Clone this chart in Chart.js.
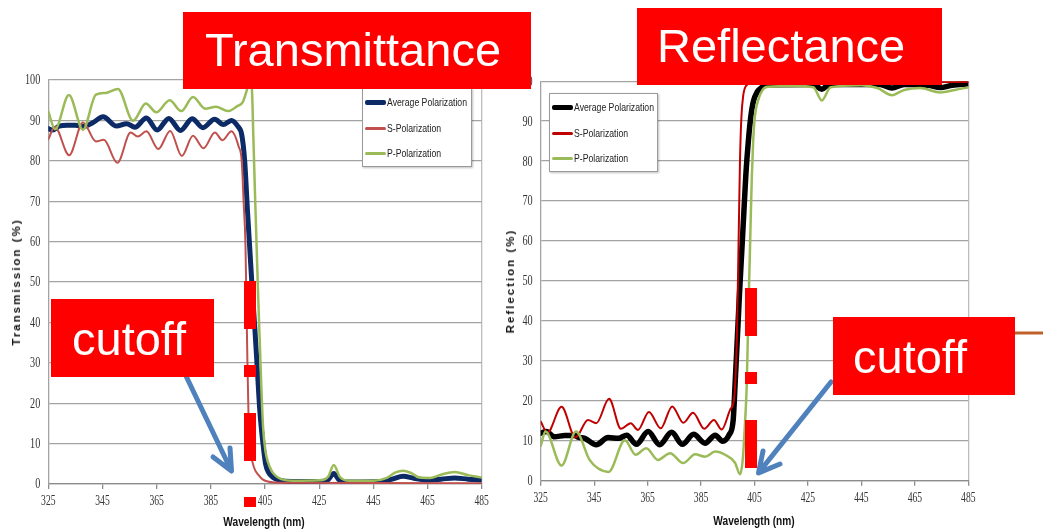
<!DOCTYPE html>
<html><head><meta charset="utf-8">
<script src="https://cdn.jsdelivr.net/npm/chart.js@4.4.1/dist/chart.umd.min.js"></script>
<style>
html,body{margin:0;padding:0;background:#fff}
body{width:1043px;height:531px;position:relative;overflow:hidden;font-family:'Liberation Sans',Arial,sans-serif}
canvas{position:absolute;top:0}
.box{position:absolute;background:#ff0000;color:#fff;font-family:'Liberation Sans',Arial,sans-serif;white-space:nowrap}
.box span{position:absolute}
.legend{position:absolute;background:#fff;border:1px solid #9a9a9a;box-shadow:1px 1px 2px rgba(0,0,0,0.25);font-family:'Liberation Sans',Arial,sans-serif;font-size:11px;color:#222}
.legend .it{position:absolute;left:2px;height:13px;line-height:13px;white-space:nowrap}
.legend .sw{display:inline-block;width:21px;vertical-align:middle;border-radius:2px;margin-right:1px}
.legend .tx{display:inline-block;transform:scaleX(0.79);transform-origin:0 50%;vertical-align:middle}
.atitle{position:absolute;font-weight:bold;color:#111;white-space:nowrap}
.xt{font-family:'Liberation Sans',Arial,sans-serif;font-size:13px;transform:translate(-50%,-50%) scaleX(0.78)}
.yt{font-family:'Liberation Sans',Arial,sans-serif;font-size:11.5px;letter-spacing:2px;transform:translate(-50%,-50%) rotate(-90deg)}
</style>
</head><body>
<canvas id="c1" width="500" height="531" style="left:0"></canvas>
<canvas id="c2" width="500" height="531" style="left:500px"></canvas>

<div class="atitle yt" style="left:16px;top:282px">Transmission (%)</div>
<div class="atitle xt" style="left:264px;top:521px">Wavelength (nm)</div>
<div class="atitle yt" style="left:510px;top:281px">Reflection (%)</div>
<div class="atitle xt" style="left:754px;top:520px">Wavelength (nm)</div>

<div class="legend" id="lg1" style="left:362px;top:88px;width:108px;height:77px"></div>
<div class="legend" id="lg2" style="left:549px;top:93px;width:107px;height:77px"></div>

<svg width="1043" height="531" style="position:absolute;left:0;top:0;pointer-events:none">
  <line x1="250" y1="281" x2="250" y2="507" stroke="#ff0000" stroke-width="12" stroke-dasharray="48 36 12 36"/>
  <line x1="751" y1="288" x2="751" y2="468" stroke="#ff0000" stroke-width="12" stroke-dasharray="48 36 12 36"/>
  <path d="M186 376 L231 470 M213 457 L231.5 471 L230 448" stroke="#4f81bd" stroke-width="5" fill="none" stroke-linecap="round" stroke-linejoin="round"/>
  <path d="M831 382 L760 471 M763 451 L758.5 473 L780 464" stroke="#4f81bd" stroke-width="5" fill="none" stroke-linecap="round" stroke-linejoin="round"/>
  <line x1="1014" y1="333" x2="1043" y2="333" stroke="#c0612b" stroke-width="3"/>
</svg>

<div class="box" style="left:183px;top:12px;width:348px;height:77px"><span style="left:22px;top:10px;font-size:47px;line-height:56px">Transmittance</span></div>
<div class="box" style="left:637px;top:8px;width:305px;height:77px"><span style="left:20px;top:10px;font-size:47px;line-height:56px">Reflectance</span></div>
<div class="box" style="left:51px;top:299px;width:163px;height:78px"><span style="left:21px;top:12px;font-size:47px;line-height:56px">cutoff</span></div>
<div class="box" style="left:833px;top:317px;width:182px;height:78px"><span style="left:20px;top:12px;font-size:47px;line-height:56px">cutoff</span></div>

<script>
// ---------- data ----------
const xTicks = [325, 345, 365, 385, 405, 425, 445, 465, 485];
const yTicks = [0, 10, 20, 30, 40, 50, 60, 70, 80, 90, 100];
const seriesNames = ['Average Polarization', 'S-Polarization', 'P-Polarization'];

// Transmittance: average polarization
const tAvgX = [325,326.6,329,332,335,338,341.4,345.2,350.2,353.9,357,361.2,365.2,369.5,373.8,378.1,382.1,386.4,389.6,392.6,395,396.4,397.5,398.5,399.4,400.4,401.3,402.2,403.1,404.3,405.2,406.2,408,410,415,425,428,430.4,432.5,436,448,452,456,460,465,470,475,480,485];
const tAvgY = [88.0,87.6,88.6,88.8,88.8,88.5,89.4,90.9,88.6,89.2,88.3,90.6,87.6,90.5,87.5,90.4,88.2,90.3,89.0,90.0,88.5,86.5,80,68,58,47,38,28,18,9.7,5,3,1.6,1.0,0.6,0.6,0.9,2.6,0.9,0.5,0.6,1.2,1.9,1.4,1.0,1.2,1.5,1.2,1.0];
// Transmittance: S-polarization
const tSX = [325,327.4,332.7,337.8,342.6,345.5,350.5,355.4,358,361.2,365.6,370,374.3,378.4,382.3,386.5,389.3,392.6,395.3,396.4,397.1,397.8,398.4,399.0,399.5,400.3,401.3,402.5,404,406,410,485];
const tSY = [85.3,88.4,81.4,89.5,84.8,85.2,79.5,87.0,86.0,87.3,82.9,87.4,81.2,86.2,83.1,87.0,85.1,87.3,83.5,80,70,59,34.5,14,8.5,5.6,3.5,2.3,1.2,0.6,0.3,0.2];
// Transmittance: P-polarization
const tPX = [325,327.5,332.6,337.8,342.6,346.3,350.7,356.3,361,364.9,369.8,374.1,378.4,382.9,386.9,391.3,394.9,396.8,398.3,399.3,400.1,400.7,401.3,401.9,402.5,403.1,403.7,404.3,405.2,406.2,407.5,409,411,415,425,428.3,430.4,432.6,436,445,450,453,456,459,462,466,470,475,480,485];
const tPY = [92.2,87.8,96.3,87.7,96.4,96.8,97.8,89.9,94.2,92.0,95.0,92.3,95.8,92.9,93.4,92.3,93.6,94.5,97.5,100,98.5,86,72,59,46,34.5,23,14,8,5.2,3.2,2.0,1.2,0.8,0.9,1.8,4.7,1.8,0.8,0.8,1.5,2.8,3.3,2.7,1.6,1.5,2.3,3.0,2.2,1.6];

// Reflectance: average polarization
const rAvgX = [325,327.1,330.2,334,337.7,339,341.5,345.8,350.2,354.1,357.2,360.8,365.2,369.5,374,378,382.2,386.5,390.3,393.1,395.5,397.0,397.8,398.6,399.4,400.2,401,401.8,402.7,403.6,404.6,406,408,410,427,430.2,433,452,456.4,461,470,474.5,479,485];
const rAvgY = [11.9,12.3,11.0,11.3,11.3,10.9,10.6,9.0,10.8,10.6,11.4,9.1,12.3,9.0,12.1,9.1,11.6,9.4,11.4,9.9,11.5,15,25,36,47,57,67,77,85,91,95,97.3,98.6,99.1,99.2,98.0,99.2,99.2,98.3,99.2,99.0,98.4,99.0,99.3];
// Reflectance: S-polarization
const rSX = [325,327.5,332.8,338,342.7,345.8,350.6,355,358.7,361.4,365.5,369.9,374.2,378.4,382,386.2,389.8,392.7,395.9,397.3,397.9,398.4,398.8,399.2,399.6,400.1,400.8,401.8,404,485];
const rSY = [14.8,12.0,18.5,10.8,15.2,14.4,20.5,13.0,14.4,12.7,17.2,13.1,18.6,14.5,17.0,13.0,15.2,12.8,17.8,20.2,26,36,50,66,81,91,96.5,98.8,99.6,99.8];
// Reflectance: P-polarization
const rPX = [325,326.8,332.8,338.2,343.3,346.4,350.4,356.5,360.5,364.5,368.9,373.4,378.3,382.8,386.5,390.3,394,397.7,399.6,400.4,400.9,401.5,402.1,402.7,403.2,403.6,404,404.5,405.2,406.5,408,410,420,427,430.2,433.5,445,451,456.4,461,467,474.5,480,485];
const rPY = [8.7,12.3,3.8,12.3,5.2,3.1,2.2,10.1,6.5,8.1,5.2,6.9,4.4,6.6,6.0,7.3,6.5,4.5,1.6,4,8,15,24,42,55,66,76,85,91.5,95.5,97.8,98.6,98.8,98.5,95.2,98.5,99.0,98.3,96.5,97.8,98.3,97.2,97.8,98.5];

// ---------- helpers ----------
function pts(xs, ys) { return xs.map((x, i) => ({ x: x, y: ys[i] })); }

// narrow serif tick labels, drawn at the positions given by the chart's own scales
const narrowTicks = {
  id: 'narrowTicks',
  afterDraw(chart) {
    const ctx = chart.ctx;
    const xs = chart.scales.x, ys = chart.scales.y;
    ctx.save();
    ctx.fillStyle = '#333';
    ctx.font = "15px 'Liberation Serif','Times New Roman',serif";
    ctx.textBaseline = 'middle';
    ctx.textAlign = 'center';
    xs.ticks.forEach(t => {
      const px = xs.getPixelForValue(t.value);
      ctx.save(); ctx.translate(px, xs.top + 17); ctx.scale(0.64, 1);
      ctx.fillText(String(t.value), 0, 0); ctx.restore();
    });
    ctx.textAlign = 'right';
    ys.ticks.forEach(t => {
      const py = ys.getPixelForValue(t.value);
      ctx.save(); ctx.translate(ys.right - 8, py + 0.5); ctx.scale(0.68, 1);
      ctx.fillText(String(t.value), 0, 0); ctx.restore();
    });
    ctx.restore();
  }
};

function makeChart(id, series, geom) {
  const datasets = series.map((s, i) => ({
    label: seriesNames[i],
    data: pts(s.x, s.y),
    borderColor: s.color,
    backgroundColor: s.color,
    borderWidth: s.width,
    order: 3 - i,
    fill: false
  }));
  return new Chart(document.getElementById(id), {
    type: 'line',
    data: { datasets: datasets },
    plugins: [narrowTicks],
    options: {
      responsive: false,
      animation: false,
      devicePixelRatio: 1,
      layout: { padding: { left: 0, right: geom.right, top: geom.top, bottom: 0 } },
      plugins: { legend: { display: false }, tooltip: { enabled: false } },
      elements: {
        point: { radius: 0 },
        line: { cubicInterpolationMode: 'monotone', borderCapStyle: 'round', borderJoinStyle: 'round' }
      },
      scales: {
        x: {
          type: 'linear', min: 325, max: 485,
          afterBuildTicks: s => { s.ticks = xTicks.map(v => ({ value: v })); },
          afterFit: s => { s.height = geom.xh; },
          grid: {
            color: c => (c.index === xTicks.length - 1 ? '#bdbdbd' : 'rgba(0,0,0,0)'),
            tickColor: '#8c8c8c', tickLength: 5, lineWidth: 1.3
          },
          border: { color: '#8c8c8c', width: 1.3 },
          ticks: { display: false, autoSkip: false, maxRotation: 0 }
        },
        y: {
          min: 0, max: 100,
          afterBuildTicks: s => { s.ticks = yTicks.map(v => ({ value: v })); },
          afterFit: s => { s.width = geom.yw; },
          grid: { color: '#a3a3a3', lineWidth: 1.3, drawTicks: false },
          border: { color: '#a3a3a3', width: 1.3 },
          ticks: { display: false }
        }
      }
    }
  });
}

const tSeries = [
  { x: tAvgX, y: tAvgY, color: '#0c2a66', width: 5 },
  { x: tSX, y: tSY, color: '#c0504d', width: 2 },
  { x: tPX, y: tPY, color: '#9bbb59', width: 2.5 }
];
const rSeries = [
  { x: rAvgX, y: rAvgY, color: '#000000', width: 5.5 },
  { x: rSX, y: rSY, color: '#c00000', width: 2 },
  { x: rPX, y: rPY, color: '#9bbb59', width: 2.5 }
];

makeChart('c1', tSeries, { right: 18.3, top: 80, xh: 47, yw: 48.3 });
makeChart('c2', rSeries, { right: 31.7, top: 81.2, xh: 50.3, yw: 40.7 });

function buildLegend(el, series, firstTop) {
  series.forEach((s, i) => {
    const d = document.createElement('div');
    d.className = 'it';
    d.style.top = (firstTop + i * 25.5 - 6.5) + 'px';
    const sw = document.createElement('span');
    sw.className = 'sw';
    sw.style.height = Math.max(3, s.width) + 'px';
    sw.style.background = s.color;
    d.appendChild(sw);
    const tx = document.createElement('span');
    tx.className = 'tx';
    tx.textContent = seriesNames[i];
    d.appendChild(tx);
    el.appendChild(d);
  });
}
buildLegend(document.getElementById('lg1'), tSeries, 13);
buildLegend(document.getElementById('lg2'), rSeries, 13);
</script>
</body></html>
